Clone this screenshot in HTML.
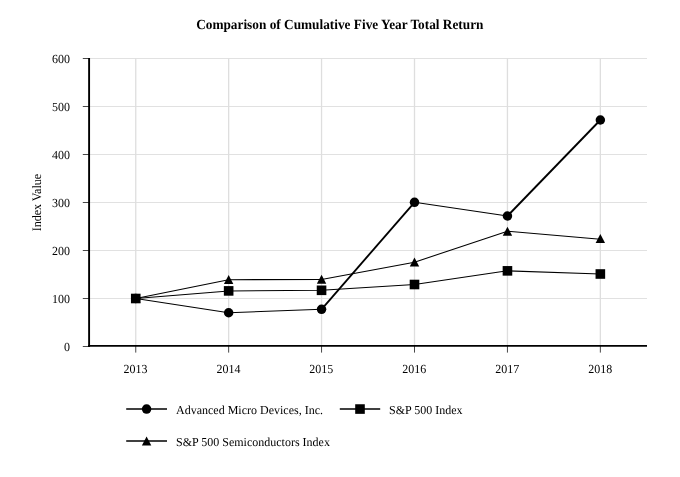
<!DOCTYPE html>
<html lang="en">
<head>
<meta charset="utf-8">
<title>Comparison of Cumulative Five Year Total Return</title>
<style>
  html, body { margin: 0; padding: 0; background: #ffffff; }
  body { width: 680px; height: 477px; overflow: hidden; }
  svg { display: block; filter: grayscale(1); }
  text { font-family: "Liberation Serif", "Times New Roman", serif; fill: #000; text-rendering: geometricPrecision; }
  .title { font-size: 13.3px; font-weight: bold; }
  .lbl { font-size: 12.0px; }
  .leg { font-size: 12.0px; }
  .gridh { stroke: #e1e1e1; stroke-width: 1; }
  .gridv { stroke: #dedede; stroke-width: 1.3; }
  .axis { stroke: #000; stroke-width: 1.9; }
  .tick { stroke: #333; stroke-width: 0.9; }
  .ser { fill: none; stroke: #000; stroke-width: 1.05; stroke-linejoin: round; }
  .steep { stroke-width: 1.85; }
  .legl { stroke-width: 1.6; }
  .mk { fill: #000; stroke: none; }
</style>
</head>
<body>
<svg width="680" height="477" viewBox="0 0 680 477">
  <rect x="0" y="0" width="680" height="477" fill="#ffffff"/>

  <!-- chart title -->
  <text class="title" text-anchor="middle" transform="translate(339.8 29) scale(1 1.05)">Comparison of Cumulative Five Year Total Return</text>
  <!-- horizontal gridlines -->
  <g class="gridh">
    <line x1="89" y1="58.5" x2="647" y2="58.5"/>
    <line x1="89" y1="106.5" x2="647" y2="106.5"/>
    <line x1="89" y1="154.5" x2="647" y2="154.5"/>
    <line x1="89" y1="202.5" x2="647" y2="202.5"/>
    <line x1="89" y1="250.5" x2="647" y2="250.5"/>
    <line x1="89" y1="298.5" x2="647" y2="298.5"/>
  </g>
  <!-- vertical gridlines -->
  <g class="gridv">
    <line x1="135.75" y1="58.5" x2="135.75" y2="346"/>
    <line x1="228.65" y1="58.5" x2="228.65" y2="346"/>
    <line x1="321.55" y1="58.5" x2="321.55" y2="346"/>
    <line x1="414.5" y1="58.5" x2="414.5" y2="346"/>
    <line x1="507.45" y1="58.5" x2="507.45" y2="346"/>
    <line x1="600.35" y1="58.5" x2="600.35" y2="346"/>
  </g>
  <!-- tick marks -->
  <g class="tick">
    <line x1="82.8" y1="58.5" x2="89" y2="58.5"/>
    <line x1="82.8" y1="106.5" x2="89" y2="106.5"/>
    <line x1="82.8" y1="154.5" x2="89" y2="154.5"/>
    <line x1="82.8" y1="202.5" x2="89" y2="202.5"/>
    <line x1="82.8" y1="250.5" x2="89" y2="250.5"/>
    <line x1="82.8" y1="298.5" x2="89" y2="298.5"/>
    <line x1="82.8" y1="346.5" x2="89" y2="346.5"/>
    <line x1="135.75" y1="346" x2="135.75" y2="352.6"/>
    <line x1="228.65" y1="346" x2="228.65" y2="352.6"/>
    <line x1="321.55" y1="346" x2="321.55" y2="352.6"/>
    <line x1="414.5" y1="346" x2="414.5" y2="352.6"/>
    <line x1="507.45" y1="346" x2="507.45" y2="352.6"/>
    <line x1="600.35" y1="346" x2="600.35" y2="352.6"/>
  </g>
  <!-- axes -->
  <line class="axis" x1="89.1" y1="58" x2="89.1" y2="346.9"/>
  <line class="axis" x1="88.05" y1="345.9" x2="647" y2="345.9"/>
  <!-- y axis labels -->
  <g>
    <text class="lbl" text-anchor="end" transform="translate(70.1 63.0) scale(1 1.025)">600</text>
    <text class="lbl" text-anchor="end" transform="translate(70.1 111.0) scale(1 1.025)">500</text>
    <text class="lbl" text-anchor="end" transform="translate(70.1 159.0) scale(1 1.025)">400</text>
    <text class="lbl" text-anchor="end" transform="translate(70.1 207.0) scale(1 1.025)">300</text>
    <text class="lbl" text-anchor="end" transform="translate(70.1 255.0) scale(1 1.025)">200</text>
    <text class="lbl" text-anchor="end" transform="translate(70.1 303.0) scale(1 1.025)">100</text>
    <text class="lbl" text-anchor="end" transform="translate(70.1 351.0) scale(1 1.025)">0</text>
  </g>
  <!-- x axis labels -->
  <g>
    <text class="lbl" text-anchor="middle" transform="translate(135.55 373) scale(1 1.025)">2013</text>
    <text class="lbl" text-anchor="middle" transform="translate(228.45 373) scale(1 1.025)">2014</text>
    <text class="lbl" text-anchor="middle" transform="translate(321.35 373) scale(1 1.025)">2015</text>
    <text class="lbl" text-anchor="middle" transform="translate(414.3 373) scale(1 1.025)">2016</text>
    <text class="lbl" text-anchor="middle" transform="translate(507.25 373) scale(1 1.025)">2017</text>
    <text class="lbl" text-anchor="middle" transform="translate(600.15 373) scale(1 1.025)">2018</text>
  </g>
  <!-- y axis title -->
  <text class="lbl" text-anchor="middle" transform="translate(41.1 202.6) rotate(-90) scale(1 1.07)">Index Value</text>
  <!-- series lines -->
  <line class="ser" x1="135.75" y1="298.5" x2="228.65" y2="312.75"/>
  <line class="ser" x1="228.65" y1="312.75" x2="321.55" y2="309.35"/>
  <line class="ser steep" x1="321.55" y1="309.35" x2="414.5" y2="202.3"/>
  <line class="ser" x1="414.5" y1="202.3" x2="507.45" y2="216.0"/>
  <line class="ser steep" x1="507.45" y1="216.0" x2="600.35" y2="120.0"/>
  <polyline class="ser" points="135.75,298.5 228.65,279.7 321.55,279.4 414.5,262.2 507.45,231.25 600.35,239.2"/>
  <polyline class="ser" points="135.75,298.5 228.65,290.9 321.55,290.3 414.5,284.5 507.45,270.85 600.35,274.0"/>
  <!-- Advanced Micro Devices markers -->
  <g class="mk">
    <circle cx="135.75" cy="298.5" r="4.75"/>
    <circle cx="228.65" cy="312.75" r="4.75"/>
    <circle cx="321.55" cy="309.35" r="4.75"/>
    <circle cx="414.5" cy="202.3" r="4.75"/>
    <circle cx="507.45" cy="216.0" r="4.75"/>
    <circle cx="600.35" cy="120.0" r="4.75"/>
  </g>
  <!-- S&amp;P 500 Semiconductors markers -->
  <g class="mk">
    <path d="M135.75 293.95 L140.45 303.00 L131.05 303.00 Z"/>
    <path d="M228.65 275.00 L233.35 284.05 L223.95 284.05 Z"/>
    <path d="M321.55 274.75 L326.25 283.80 L316.85 283.80 Z"/>
    <path d="M414.5 257.55 L419.20 266.60 L409.80 266.60 Z"/>
    <path d="M507.45 226.70 L512.15 235.75 L502.75 235.75 Z"/>
    <path d="M600.35 234.05 L605.05 243.10 L595.65 243.10 Z"/>
  </g>
  <!-- S&amp;P 500 markers -->
  <g class="mk">
    <rect x="130.95" y="293.70" width="9.6" height="9.6"/>
    <rect x="223.85" y="286.10" width="9.6" height="9.6"/>
    <rect x="316.75" y="285.50" width="9.6" height="9.6"/>
    <rect x="409.70" y="279.70" width="9.6" height="9.6"/>
    <rect x="502.65" y="266.05" width="9.6" height="9.6"/>
    <rect x="595.55" y="269.20" width="9.6" height="9.6"/>
  </g>
  <!-- legend -->
  <g>
    <line class="ser legl" x1="126.2" y1="409.05" x2="167" y2="409.05"/>
    <circle class="mk" cx="146.6" cy="409.05" r="4.75"/>
    <text class="leg" text-anchor="start" transform="translate(176.05 414) scale(1 1.01)">Advanced Micro Devices, Inc.</text>
    <line class="ser legl" x1="339.8" y1="409.05" x2="380.2" y2="409.05"/>
    <rect class="mk" x="355.2" y="404.25" width="9.6" height="9.6"/>
    <text class="leg" text-anchor="start" transform="translate(389.0 414) scale(1 1.01)">S&amp;P 500 Index</text>
    <line class="ser legl" x1="126.2" y1="441.05" x2="167" y2="441.05"/>
    <path class="mk" d="M146.6 436.5 L151.3 445.55 L141.9 445.55 Z"/>
    <text class="leg" text-anchor="start" transform="translate(176.05 446) scale(1 1.01)">S&amp;P 500 Semiconductors Index</text>
  </g>
</svg>
</body>
</html>
